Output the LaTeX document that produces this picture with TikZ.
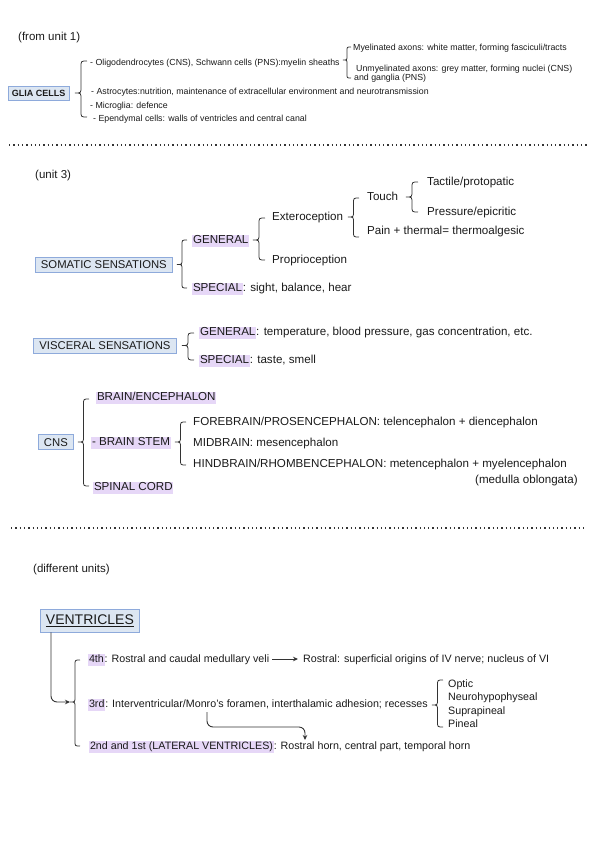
\documentclass[tikz,border=0pt]{standalone}
\usepackage{fontspec}
\setmainfont{Liberation Sans}
\usetikzlibrary{arrows.meta}
\definecolor{ink}{HTML}{1A1A1A}
\definecolor{ink2}{HTML}{333333}
\definecolor{boxfill}{HTML}{DCE6F2}
\definecolor{boxline}{HTML}{8EAADB}
\definecolor{hl}{HTML}{E6D7F7}
\newcommand{\hlbox}[1]{{\setlength{\fboxsep}{0.8pt}\colorbox{hl}{\rule[-0.2em]{0pt}{0.92em}#1}}}
\newcommand{\mybrace}[5]{%
 \draw[bracest] (#1,#2) .. controls ({#1-#5/2},#2) .. ({#1-#5/2},{#2+#5/2})
  -- ({#1-#5/2},{#3-#5/2}) .. controls ({#1-#5/2},#3) .. ({#1-#5},#3)
  .. controls ({#1-#5/2},#3) .. ({#1-#5/2},{#3+#5/2})
  -- ({#1-#5/2},{#4-#5/2}) .. controls ({#1-#5/2},#4) .. (#1,#4);}
\tikzset{
 tA/.style={anchor=base west, inner sep=0pt, text=ink, font=\fontsize{11.6}{13.5}\selectfont},
 tB/.style={anchor=base west, inner sep=0pt, text=ink, font=\fontsize{10.7}{12.5}\selectfont},
 tC/.style={anchor=base west, inner sep=0pt, text=ink, font=\fontsize{8.8}{10.5}\selectfont},
 tL/.style={anchor=base west, inner sep=0pt, text=ink, font=\fontsize{11.5}{14}\selectfont},
 boxst/.style={draw=boxline, fill=boxfill, line width=0.9pt, anchor=west, text=ink},
 bracest/.style={draw=ink2, line width=0.8pt},
 conn/.style={draw=ink2, line width=0.9pt},
 dotln/.style={draw=ink2, line width=1.3pt, dash pattern=on 1.3pt off 3pt}
}
\begin{document}
\begin{tikzpicture}[x=1pt,y=-1pt]
\useasboundingbox (0,0) rectangle (600,848);

% ---------- top section ----------
\node[tL] (fromu1) at (18,41) {(from unit 1)};
\node[boxst, font=\bfseries\fontsize{9}{11}\selectfont, inner xsep=3.5pt, inner ysep=4pt, text height=6.6pt, text depth=0pt] (glia) at (8,93.5) {GLIA CELLS};
\mybrace{87}{61}{93}{117}{12}
\node[tC] (oligo) at (90,65.2) {- Oligodendrocytes (CNS), Schwann cells (PNS):myelin sheaths};
\mybrace{351}{47}{60}{78}{8}
\node[tC] (myel) at (353,50.2) {Myelinated axons: white matter, forming fasciculi/tracts};
\node[tC] (unmyel) at (356,71.2) {Unmyelinated axons: grey matter, forming nuclei (CNS)};
\node[tC] (gangl) at (354,81) {and ganglia (PNS)};
\node[tC] (astro) at (91,95) {- Astrocytes:nutrition, maintenance of extracellular environment and neurotransmission};
\node[tC] (micro) at (90,108.2) {- Microglia: defence};
\node[tC] (epend) at (93,121.5) {- Ependymal cells: walls of ventricles and central canal};

\coordinate (d1a) at (9,145); \coordinate (d1b) at (588,145);
\draw[dotln] (d1a) -- (d1b);

% ---------- middle section ----------
\node[tL] (unit3) at (35,178.8) {(unit 3)};
\node[boxst, font=\fontsize{11.3}{13}\selectfont, inner xsep=5.5pt, inner ysep=3.5pt, text height=8.1pt, text depth=0pt] (soma) at (35,264.5) {SOMATIC SENSATIONS};
\mybrace{187}{240}{264.5}{288}{10}
\node[tA] (gen1) at (192,243.8) {\hlbox{GENERAL}};
\node[tA] (spec1) at (192,291.8) {\hlbox{SPECIAL}: sight, balance, hear};
\mybrace{265}{218}{240}{260}{12}
\node[tA] (extero) at (272,220.8) {Exteroception};
\node[tA] (proprio) at (272,263.8) {Proprioception};
\mybrace{359}{198}{217}{237}{11}
\node[tA] (touch) at (367,200.8) {Touch};
\node[tA] (pain) at (367,234.8) {Pain + thermal= thermoalgesic};
\mybrace{418}{182}{197}{212}{12}
\node[tA] (tactile) at (427,185.8) {Tactile/protopatic};
\node[tA] (pressure) at (427,215.8) {Pressure/epicritic};

\node[boxst, font=\fontsize{11.3}{13}\selectfont, inner xsep=6pt, inner ysep=3.5pt, text height=8.1pt, text depth=0pt] (visc) at (33,345.5) {VISCERAL SENSATIONS};
\mybrace{194}{333}{345.5}{360}{12}
\node[tA] (gen2) at (199,335.8) {\hlbox{GENERAL}: temperature, blood pressure, gas concentration, etc.};
\node[tA] (spec2) at (199,363.8) {\hlbox{SPECIAL}: taste, smell};

\node[boxst, font=\fontsize{11.3}{13}\selectfont, inner xsep=5.5pt, inner ysep=3.5pt, text height=8.1pt, text depth=0pt] (cns) at (38,442) {CNS};
\mybrace{89}{399}{442}{486}{11}
\node[tA] (brain) at (96,400.8) {\hlbox{BRAIN/ENCEPHALON}};
\node[tA] (stem) at (91,445.8) {\hlbox{- BRAIN STEM}};
\node[tA] (spinal) at (93,490.8) {\hlbox{SPINAL CORD}};
\mybrace{186}{422}{442}{465}{11}
\node[tA] (fore) at (193,425.8) {FOREBRAIN/PROSENCEPHALON: telencephalon + diencephalon};
\node[tA] (mid) at (193,446.8) {MIDBRAIN: mesencephalon};
\node[tA] (hind) at (193,467.8) {HINDBRAIN/RHOMBENCEPHALON: metencephalon + myelencephalon};
\node[tA] (medulla) at (475,483.8) {(medulla oblongata)};

\coordinate (d2a) at (11,528); \coordinate (d2b) at (585,528);
\draw[dotln] (d2a) -- (d2b);

% ---------- bottom section ----------
\node[tL] (diffu) at (33,572) {(different units)};
\node[boxst, font=\fontsize{14}{16}\selectfont, inner xsep=5.5pt, inner ysep=5.5pt, text height=10pt, text depth=2pt] (vent) at (40,620.5) {\underline{VENTRICLES}};
\mybrace{80}{660}{702}{746}{10}
\coordinate (vtip) at (70,702);
\draw[conn, -{Stealth[length=5pt,width=4.5pt]}, rounded corners=6pt] ([xshift=11pt]vent.south west) |- (vtip);

\node[tB] (n4) at (88,662.6) {\hlbox{4th}: Rostral and caudal medullary veli};
\node[tB] (n4b) at (303,662.6) {Rostral: superficial origins of IV nerve; nucleus of VI};
\draw[conn, -{Stealth[length=5pt,width=4.5pt]}] ([shift={(3pt,3.6pt)}]n4.base east) -- ([shift={(-5pt,3.6pt)}]n4b.base west);

\node[tB] (n3) at (88,707.6) {\hlbox{3rd}: Interventricular/Monro's foramen, interthalamic adhesion; recesses};
\mybrace{443}{680}{705}{727}{11}
\node[tB] (optic) at (448,687) {Optic};
\node[tB] (neuro) at (448,700.5) {Neurohypophyseal};
\node[tB] (supra) at (448,714) {Suprapineal};
\node[tB] (pineal) at (448,727.5) {Pineal};

\node[tB] (n2) at (89,749.6) {\hlbox{2nd and 1st (LATERAL VENTRICLES)}: Rostral horn, central part, temporal horn};
\coordinate (monro) at (207,712);
\coordinate (rhorn) at (305,740);
\draw[conn, -{Stealth[length=5pt,width=4.5pt]}, rounded corners=6pt] (monro) -- ++(0,15) -| (rhorn);
\end{tikzpicture}
\end{document}
